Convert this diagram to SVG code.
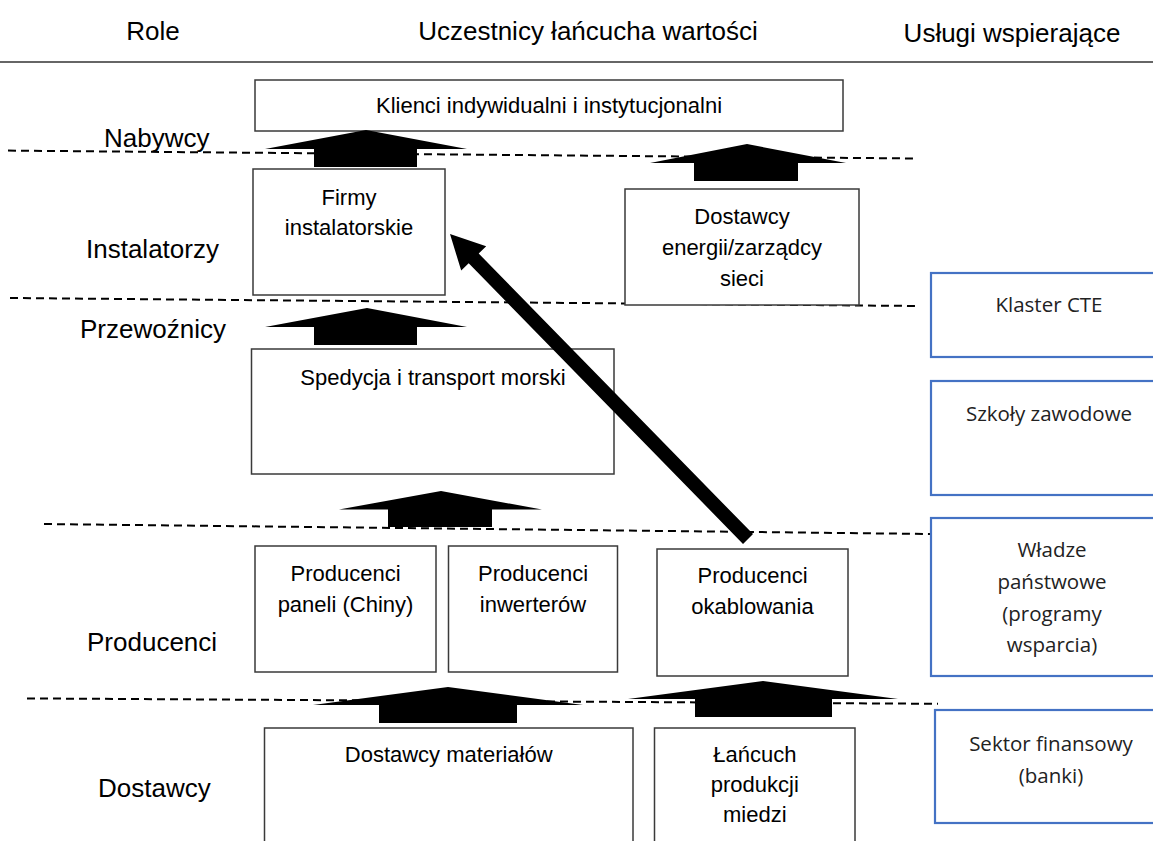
<svg xmlns="http://www.w3.org/2000/svg" width="1153" height="841" viewBox="0 0 1153 841">
<style>
.bg{fill:#fff}
.box{fill:#fff;stroke:#3a3a3a;stroke-width:1.5}
.bbox{fill:#fff;stroke:#4472C4;stroke-width:2.2}
.dash{stroke:#000;stroke-width:2;stroke-dasharray:8 5;fill:none}
.arr{fill:#000}
.h{font-family:"Liberation Sans",Arial,sans-serif;font-size:26px;fill:#000}
.role{font-family:"Liberation Sans",Arial,sans-serif;font-size:26px;fill:#000}
.t{font-family:"Liberation Sans",Arial,sans-serif;font-size:22px;fill:#000;text-anchor:middle}
.bt{font-family:"Open Sans","Noto Sans",sans-serif;font-size:20.5px;fill:#222;text-anchor:middle}
</style>
<rect class="bg" x="0" y="0" width="1153" height="841"/>
<g id="header">
<text class="h" x="153" y="40" text-anchor="middle">Role</text>
<text class="h" x="588" y="40" text-anchor="middle">Uczestnicy łańcucha wartości</text>
<text class="h" x="1012" y="42" text-anchor="middle">Usługi wspierające</text>
<line x1="0" y1="62" x2="1153" y2="62" stroke="#333" stroke-width="1.5"/>
</g>
<g id="roles">
<text class="role" x="104" y="147">Nabywcy</text>
<text class="role" x="86" y="258">Instalatorzy</text>
<text class="role" x="80" y="338">Przewoźnicy</text>
<text class="role" x="87" y="651">Producenci</text>
<text class="role" x="98" y="797">Dostawcy</text>
</g>
<g id="layer-lines">
<line class="dash" x1="8" y1="150.6" x2="918" y2="158.5"/>
<line class="dash" x1="10" y1="298" x2="917" y2="306"/>
<line class="dash" x1="44" y1="524" x2="931" y2="534"/>
<line class="dash" x1="27" y1="698.4" x2="938" y2="703.8"/>
</g>
<g id="n-klienci"><rect class="box" x="255" y="80" width="588" height="51"/><text class="t" x="549" y="113">Klienci indywidualni i instytucjonalni</text></g>
<g id="n-firmy"><rect class="box" x="253" y="169" width="192" height="126"/><text class="t" x="349" y="205">Firmy</text><text class="t" x="349" y="235">instalatorskie</text></g>
<g id="n-energia"><rect class="box" x="625" y="189" width="234" height="116"/><text class="t" x="742" y="224">Dostawcy</text><text class="t" x="742" y="255">energii/zarządcy</text><text class="t" x="742" y="286">sieci</text></g>
<g id="n-spedycja"><rect class="box" x="251.5" y="349" width="362.5" height="125"/><text class="t" x="433" y="385">Spedycja i transport morski</text></g>
<g id="n-panele"><rect class="box" x="255" y="546" width="181" height="126"/><text class="t" x="345.5" y="581">Producenci</text><text class="t" x="345.5" y="612">paneli (Chiny)</text></g>
<g id="n-inwertery"><rect class="box" x="448.5" y="546" width="169" height="126"/><text class="t" x="533" y="581">Producenci</text><text class="t" x="533" y="612">inwerterów</text></g>
<g id="n-okablowanie"><rect class="box" x="657" y="549" width="191" height="127"/><text class="t" x="752.5" y="583">Producenci</text><text class="t" x="752.5" y="614">okablowania</text></g>
<g id="n-materialy"><rect class="box" x="264.5" y="728" width="368.5" height="130"/><text class="t" x="448.7" y="762">Dostawcy materiałów</text></g>
<g id="n-miedz"><rect class="box" x="654.5" y="728" width="200.5" height="130"/><text class="t" x="754.8" y="762">Łańcuch</text><text class="t" x="754.8" y="792">produkcji</text><text class="t" x="754.8" y="822">miedzi</text></g>
<g id="n-klaster"><rect class="bbox" x="931" y="273" width="240" height="84"/><text class="bt" x="1049" y="312">Klaster CTE</text></g>
<g id="n-szkoly"><rect class="bbox" x="931" y="381" width="240" height="114"/><text class="bt" x="1049" y="421">Szkoły zawodowe</text></g>
<g id="n-wladze"><rect class="bbox" x="931" y="518" width="240" height="158"/><text class="bt" x="1052" y="557">Władze</text><text class="bt" x="1052" y="589">państwowe</text><text class="bt" x="1052" y="621">(programy</text><text class="bt" x="1052" y="652">wsparcia)</text></g>
<g id="n-finanse"><rect class="bbox" x="935" y="710" width="240" height="113"/><text class="bt" x="1051" y="751">Sektor finansowy</text><text class="bt" x="1051" y="783">(banki)</text></g>
<g id="connectors">
<polygon class="arr" points="366,130 467,149 417,149 417,167 314,167 314,149 265,149"/>
<polygon class="arr" points="747,144 846,163 798,163 798,181 694,181 694,163 650,163"/>
<polygon class="arr" points="367,308 467,327 417,327 417,345 314,345 314,327 265,327"/>
<polygon class="arr" points="441,491 542,509.5 492,509.5 492,527 388,527 388,509.5 339,509.5"/>
<polygon class="arr" points="448,687 583,705 517,705 517,723 379,723 379,705 313,705"/>
<polygon class="arr" points="763,681 898,699 832,699 832,717 695,717 695,699 628,699"/>
<polygon class="arr" points="450,234 486.2,246.2 478.7,253.5 753,534.1 743,543.9 468.7,263.3 461.2,270.6"/>
</g>
</svg>
